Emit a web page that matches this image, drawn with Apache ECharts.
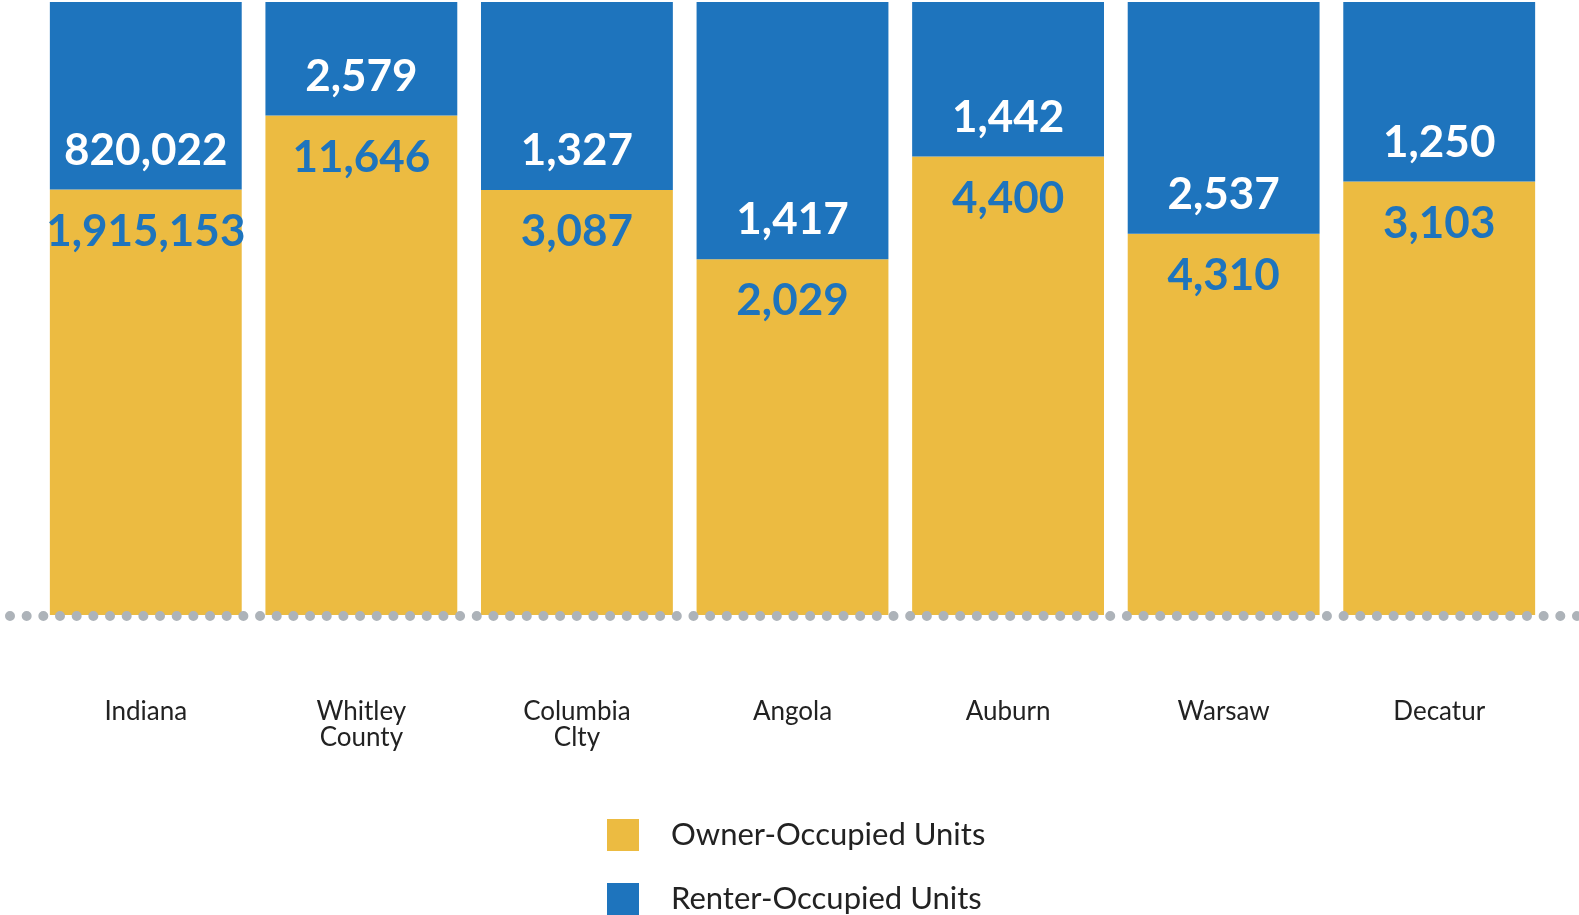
<!DOCTYPE html>
<html>
<head>
<meta charset="utf-8">
<script src="https://cdn.jsdelivr.net/npm/echarts@6/dist/echarts.min.js"></script>
<style>
  html, body { margin: 0; padding: 0; background: #fff; }
  #main { width: 1579px; height: 915px; }
</style>
</head>
<body>
<div id="main"></div>
<script>
  const categories = ['Indiana', 'Whitley\nCounty', 'Columbia\nClty', 'Angola', 'Auburn', 'Warsaw', 'Decatur']
  const ownerUnits = [1915153, 11646, 3087, 2029, 4400, 4310, 3103]
  const renterUnits = [820022, 2579, 1327, 1417, 1442, 2537, 1250]

  const fmt = (v) => v.toLocaleString('en-US')
  // share of each place's total, so every bar fills the full height
  const ownerShare = ownerUnits.map((v, i) => v / (v + renterUnits[i]))
  const renterShare = renterUnits.map((v, i) => v / (v + ownerUnits[i]))

  const blue = '#1e74bd'
  const yellow = '#ecbb41'
  const labelFont = { fontFamily: 'Lato', fontWeight: 700, fontSize: 44, lineHeight: 44 }

  const myChart = echarts.init(document.getElementById('main'))
  myChart.setOption({
    animation: false,
    grid: [
      { left: 38, right: 32, top: 2, height: 613 },
      // full-width strip that only carries the dotted baseline
      { left: 10, right: 0, top: 605, height: 10.6 }
    ],
    legend: {
      orient: 'vertical',
      left: 607,
      top: 819,
      padding: 0,
      itemWidth: 32,
      itemHeight: 32,
      itemGap: 32,
      icon: 'rect',
      textStyle: {
        fontFamily: 'Lato',
        fontSize: 31,
        color: '#222',
        padding: [0, 0, 0, 27]
      },
      data: ['Owner-Occupied Units', 'Renter-Occupied Units']
    },
    xAxis: [
      {
        type: 'category',
        data: categories,
        gridIndex: 0,
        axisLine: { show: false },
        axisTick: { show: false },
        axisLabel: {
          margin: 84,
          fontFamily: 'Lato',
          fontSize: 26,
          lineHeight: 26,
          color: '#222'
        }
      },
      {
        type: 'value',
        gridIndex: 1,
        z: 10,
        axisLine: {
          show: true,
          lineStyle: { color: '#adb3b9', width: 10, type: [0, 16.67], cap: 'round' }
        },
        axisTick: { show: false },
        axisLabel: { show: false },
        splitLine: { show: false }
      }
    ],
    yAxis: [
      { type: 'value', min: 0.02, max: 1, show: false, gridIndex: 0 },
      { type: 'value', show: false, gridIndex: 1 }
    ],
    series: [
      {
        name: 'Owner-Occupied Units',
        type: 'bar',
        stack: 'units',
        clip: true,
        barCategoryGap: '11%',
        itemStyle: { color: yellow },
        label: {
          show: true,
          position: 'insideTop',
          distance: 20,
          color: blue,
          ...labelFont,
          formatter: (p) => fmt(ownerUnits[p.dataIndex])
        },
        data: ownerShare
      },
      {
        name: 'Renter-Occupied Units',
        type: 'bar',
        stack: 'units',
        clip: true,
        itemStyle: { color: blue },
        label: {
          show: true,
          position: 'insideBottom',
          distance: 17,
          color: '#fff',
          ...labelFont,
          formatter: (p) => fmt(renterUnits[p.dataIndex])
        },
        data: renterShare
      }
    ]
  })
</script>
</body>
</html>
